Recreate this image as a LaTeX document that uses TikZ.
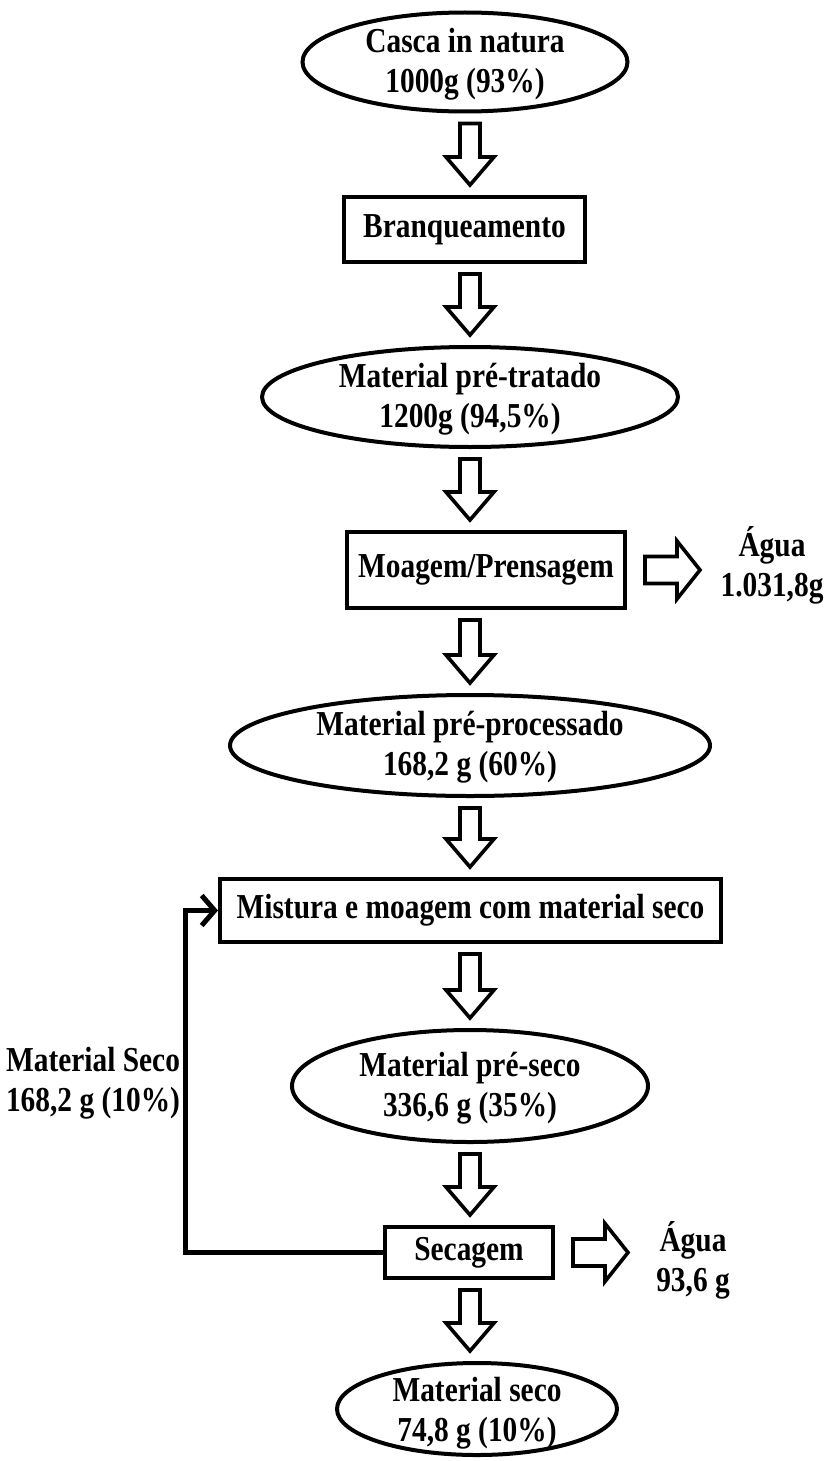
\documentclass[tikz,border=0pt]{standalone}
\usepackage{fontspec}
\setmainfont[FakeStretch=0.84]{Liberation Serif}
\usetikzlibrary{shapes.geometric,calc,arrows.meta}

\tikzset{
  lbl/.style={font=\bfseries\fontsize{35}{40}\selectfont, align=center, inner sep=0pt},
  ell/.style={ellipse, draw, line width=4pt, fill=white, inner sep=0pt},
  boxnode/.style={rectangle, draw, line width=4pt, fill=white, inner sep=0pt,
    font=\bfseries\fontsize{35}{40}\selectfont},
  % hollow block arrow pointing down, drawn between two nodes
  blockdown/.style={line width=3.6pt, line join=miter, to path={
    let \p1=(\tikztostart), \p2=(\tikztotarget) in
    (\x1-10pt,\y1-10pt) -- (\x1+10pt,\y1-10pt) -- (\x1+10pt,\y2+38pt)
    -- (\x1+24pt,\y2+38pt) -- (\x1,\y2+10pt) -- (\x1-24pt,\y2+38pt)
    -- (\x1-10pt,\y2+38pt) -- cycle}},
  % hollow block arrow pointing right, leaving a box
  blockright/.style={line width=3.6pt, line join=miter, to path={
    let \p1=(\tikztostart) in
    (\x1+18pt,\y1+13.5pt) -- (\x1+50pt,\y1+13.5pt) -- (\x1+50pt,\y1+29pt)
    -- (\x1+73pt,\y1) -- (\x1+50pt,\y1-29pt) -- (\x1+50pt,\y1-13.5pt)
    -- (\x1+18pt,\y1-13.5pt) -- cycle}},
  recycle/.style={line width=5pt, line join=miter,
    -{Straight Barb[length=13pt,width=30pt,line width=5pt]}},
}

\begin{document}
\begin{tikzpicture}[x=1pt, y=-1pt]
\fill[white] (0,0) rectangle (830,1461);
\useasboundingbox (0,0) rectangle (830,1461);

\coordinate (axis) at (470,0);

% main flow
\node[ell, minimum width=325pt, minimum height=99pt] (casca) at (465,62) {};
\node[lbl] (casca-t) at ([yshift=-2pt]casca.center) {Casca in natura\\1000g (93\%)};

\node[boxnode, minimum width=241pt, minimum height=65pt] (bran) at (464.5,229.5) {Branqueamento};

\node[ell, minimum width=416pt, minimum height=100pt] (pretrat) at (470,397) {};
\node[lbl] (pretrat-t) at ([yshift=-2pt]pretrat.center) {Material pré-tratado\\1200g (94,5\%)};

\node[boxnode, minimum width=278pt, minimum height=76pt] (moag) at (486,570) {Moagem/Prensagem};
\node[lbl] (agua1) at (772,565) {Água\\1.031,8g};

\node[ell, minimum width=480pt, minimum height=101pt] (preproc) at (470,745.5) {};
\node[lbl] (preproc-t) at ([yshift=-2pt]preproc.center) {Material pré-processado\\168,2 g (60\%)};

\node[boxnode, minimum width=501pt, minimum height=63pt] (mist) at (470.5,910.5) {Mistura e moagem com material seco};

\node[ell, minimum width=356pt, minimum height=112pt] (preseco) at (470,1086) {};
\node[lbl] (preseco-t) at ([yshift=-2pt]preseco.center) {Material pré-seco\\336,6 g (35\%)};

\node[boxnode, minimum width=168pt, minimum height=51pt] (sec) at (469,1252.5) {Secagem};
\node[lbl] (agua2) at (693,1260) {Água\\93,6 g};

\node[ell, minimum width=280pt, minimum height=92pt] (seco) at (477,1409) {};
\node[lbl] (seco-t) at ([yshift=-4pt]seco.center) {Material seco\\74,8 g (10\%)};

\node[lbl] (recl) at (93,1083) {Material Seco\\168,2 g (10\%)};

% block arrows
\draw[blockdown] (casca.south -| axis) to (bran.north -| axis);
\draw[blockdown] (bran.south -| axis) to (pretrat.north -| axis);
\draw[blockdown] (pretrat.south -| axis) to (moag.north -| axis);
\draw[blockdown] (moag.south -| axis) to (preproc.north -| axis);
\draw[blockdown] (preproc.south -| axis) to (mist.north -| axis);
\draw[blockdown] (mist.south -| axis) to (preseco.north -| axis);
\draw[blockdown] (preseco.south -| axis) to (sec.north -| axis);
\draw[blockdown] (sec.south -| axis) to (seco.north -| axis);

\draw[blockright] (moag.east) to (agua1);
\draw[blockright] (sec.east) to (agua2);

% dry material returned to the mixer
\draw[recycle] (sec.west) -- ++(-198,0) |- (mist.west);
\end{tikzpicture}
\end{document}
